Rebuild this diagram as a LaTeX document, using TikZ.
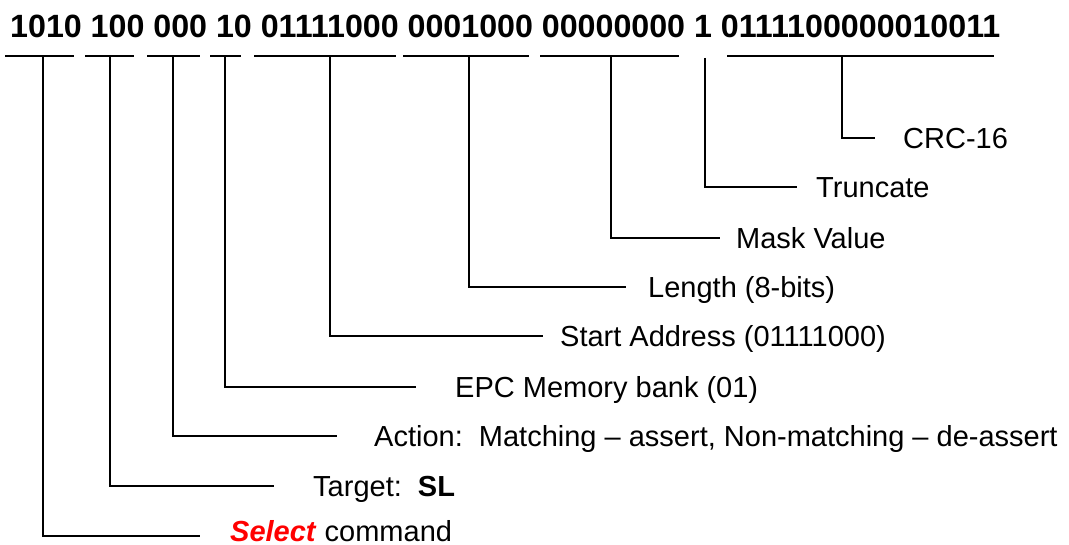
\documentclass[tikz,border=0pt]{standalone}
\usepackage{fontspec}
\setmainfont{Liberation Sans}
\tikzset{
  bar/.style={line width=1.6pt},
  lab/.style={anchor=base west, inner sep=0pt, font=\fontsize{29}{34}\selectfont},
  bits/.style={anchor=base west, inner sep=0pt, font=\fontsize{32.2}{38}\selectfont\bfseries}
}
\begin{document}
\begin{tikzpicture}[x=1pt,y=-1pt]
		%%%%% START %%%%%
		\useasboundingbox (0,0) rectangle (1069,545);
		
		\node[bits] (bits) at (10,38) {1010 100 000 10 01111000 0001000 00000000 1 0111100000010011};
		
		% underlines of the fields
		\draw[bar] (5,56) -- (74,56);
		\draw[bar] (85,56) -- (134,56);
		\draw[bar] (147,56) -- (200,56);
		\draw[bar] (210,56) -- (241,56);
		\draw[bar] (254,56) -- (396,56);
		\draw[bar] (403,56) -- (529,56);
		\draw[bar] (540,56) -- (679,56);
		\draw[bar] (727,56) -- (994,56);
		
		% CRC
		\coordinate (crc) at (842,56);
		\coordinate (crc end) at (875,138);
		\draw[bar] (crc) |- (crc end);
		\node[lab] (crc lab) at (903,148.4) {CRC-16};
		
		% truncate
		\coordinate (trunc) at (705,58);
		\coordinate (trunc end) at (797,187);
		\draw[bar] (trunc) |- (trunc end);
		\node[lab] (trunc lab) at (816,197.4) {Truncate};
		
		% mask
		\coordinate (mask) at (611,56);
		\coordinate (mask end) at (720,238);
		\draw[bar] (mask) |- (mask end);
		\node[lab] (mask lab) at (736,248.4) {Mask Value};
		
		% length
		\coordinate (len) at (469,56);
		\coordinate (len end) at (626,287);
		\draw[bar] (len) |- (len end);
		\node[lab] (len lab) at (648,297.4) {Length (8-bits)};
		
		% start address
		\coordinate (addr) at (330,56);
		\coordinate (addr end) at (543,336);
		\draw[bar] (addr) |- (addr end);
		\node[lab] (addr lab) at (560,346.4) {Start Address (01111000)};
		
		% memory bank
		\coordinate (bank) at (225,56);
		\coordinate (bank end) at (416,387);
		\draw[bar] (bank) |- (bank end);
		\node[lab] (bank lab) at (455,397.4) {EPC Memory bank (01)};
		
		% action
		\coordinate (act) at (173,56);
		\coordinate (act end) at (337,436);
		\draw[bar] (act) |- (act end);
		\node[lab] (act lab) at (374,446.4) {Action:~~Matching -- assert, Non-matching -- de-assert};
		
		% target
		\coordinate (tgt) at (110,56);
		\coordinate (tgt end) at (274,486);
		\draw[bar] (tgt) |- (tgt end);
		\node[lab] (tgt lab) at (313,496.4) {Target:~~\textbf{SL}};
		
		% command
		\coordinate (cmd) at (43,56);
		\coordinate (cmd end) at (200,536);
		\draw[bar] (cmd) |- (cmd end);
		\node[lab] (cmd lab) at (230,541) {\textcolor{red}{\textbf{\textit{Select}}} command};
		
		%%%%% END %%%%%
\end{tikzpicture}
\end{document}
